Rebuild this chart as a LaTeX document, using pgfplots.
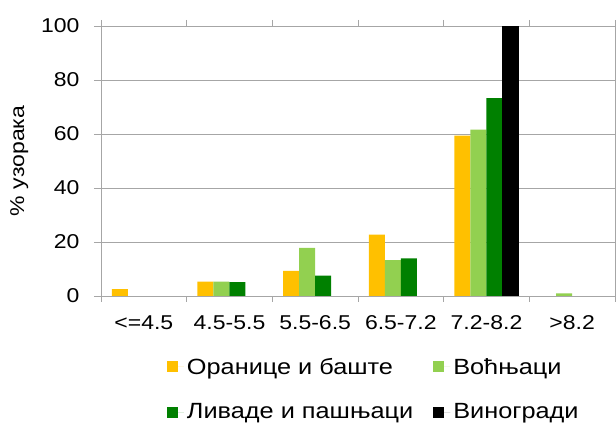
\documentclass[border=0pt]{standalone}
\usepackage{pgfplots}
\pgfplotsset{compat=1.18}
\usepackage{fontspec}
\setmainfont{Liberation Sans}[FakeStretch=1.15]
\definecolor{cOr}{HTML}{FFC000}
\definecolor{cLg}{HTML}{92D050}
\definecolor{cDg}{HTML}{008000}
\definecolor{cGr}{HTML}{A6A6A6}
\newcommand{\lf}{\fontsize{20}{24}\selectfont}
\newcommand{\lgf}{\fontsize{22}{26}\selectfont}
\begin{document}
\begin{tikzpicture}
\begin{axis}[
  scale only axis, width=514pt, height=270pt,
  ymin=0, ymax=100, ytick={0,20,...,100},
  xmin=-0.5, xmax=5.5,
  xtick={0,...,5},
  xticklabels={{<=4.5},{4.5-5.5},{5.5-6.5},{6.5-7.2},{7.2-8.2},{>8.2}},
  minor xtick={-0.5,0.5,...,5.5},
  major x tick style={draw=none},
  tick align=outside,
  major tick length=7pt, minor tick length=6pt,
  tick style={cGr, line width=0.8pt},
  axis line style={cGr, line width=0.8pt},
  ymajorgrids, grid style={cGr, line width=0.8pt},
  /pgf/number format/assume math mode=true,
  tick label style={font=\lf},
  yticklabel style={xshift=-11pt},
  xticklabel style={yshift=-9pt},
  ylabel={\% узорака}, ylabel style={font=\lf, yshift=6pt},
  ybar=0pt, bar width=16pt,
  legend columns=2,
  legend cell align=left,
  legend style={draw=none, font=\lgf, at={(0.128,-0.218)}, anchor=north west,
    inner sep=0pt, row sep=22pt, nodes={inner sep=3pt},
    /tikz/every even column/.append style={column sep=17pt}},
  legend image code/.code={\fill[#1] (0pt,-5.5pt) rectangle (11pt,5.5pt); \path (0pt,0pt) -- (17pt,0pt);},
]
\addplot[fill=cOr, draw=none] coordinates {(0,2.5) (1,5.3) (2,9.3) (3,22.7) (4,59.4)};
\addplot[fill=cLg, draw=none] coordinates {(1,5.3) (2,17.8) (3,13.3) (4,61.6) (5,1.0)};
\addplot[fill=cDg, draw=none] coordinates {(1,5.1) (2,7.5) (3,13.9) (4,73.3)};
\addplot[fill=black, draw=none] coordinates {(4,100)};
\legend{Оранице и баште, Воћњаци, Ливаде и пашњаци, Виногради}
\coordinate (O) at (rel axis cs:0,0);
\end{axis}
\pgfresetboundingbox
\path (O) ++(-101pt,-129pt) rectangle ++(616pt,425pt);
\end{tikzpicture}
\end{document}
